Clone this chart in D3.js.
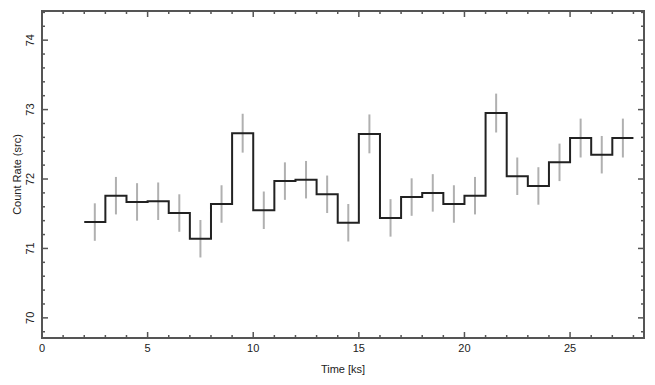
<!DOCTYPE html>
<html>
<head>
<style>
  body { margin: 0; background: #fff; }
  svg text { font-family: "Liberation Sans", Arial, sans-serif; fill: #222; }
</style>
</head>
<body>
<svg width="655" height="385"></svg>
<script src="https://d3js.org/d3.v7.min.js"></script>
<script>
// bin edges (ks), count rate per bin, 1-sigma errors
var binStart = [2, 3, 4, 5, 6, 7, 8, 9, 10, 11, 12, 13, 14, 15, 16, 17, 18, 19, 20, 21, 22, 23, 24, 25, 26, 27];
var binWidth = 1;
var rate = [71.38, 71.76, 71.67, 71.68, 71.51, 71.14, 71.64, 72.66, 71.55, 71.97, 71.99, 71.78, 71.37,
            72.65, 71.44, 71.74, 71.80, 71.64, 71.76, 72.95, 72.04, 71.90, 72.24, 72.59, 72.35, 72.59];
var err = [0.27, 0.27, 0.27, 0.27, 0.27, 0.27, 0.27, 0.28, 0.27, 0.27, 0.27, 0.27, 0.27,
           0.28, 0.27, 0.27, 0.27, 0.27, 0.27, 0.28, 0.27, 0.27, 0.27, 0.28, 0.27, 0.28];
var xTicks = [0, 5, 10, 15, 20, 25];
var yTicks = [70, 71, 72, 73, 74];

var svg = d3.select("svg");
var m = {left: 42, right: 11, top: 11, bottom: 47};
var W = 655 - m.left - m.right, H = 385 - m.top - m.bottom;

var x = d3.scaleLinear().domain([0, 28.5]).range([0, W]);
var y = d3.scaleLinear().domain([69.71, 74.42]).range([H, 0]);

var g = svg.append("g").attr("transform", "translate(" + m.left + "," + m.top + ")");

// error bars
g.append("g").selectAll("line")
  .data(binStart)
  .enter().append("line")
    .attr("x1", function(d) { return x(d + binWidth / 2); })
    .attr("x2", function(d) { return x(d + binWidth / 2); })
    .attr("y1", function(d, i) { return y(rate[i] - err[i]); })
    .attr("y2", function(d, i) { return y(rate[i] + err[i]); })
    .attr("stroke", "#b0b0b0")
    .attr("stroke-width", 2);

// step line
var pts = [];
binStart.forEach(function(d, i) {
  pts.push([d, rate[i]]);
  pts.push([d + binWidth, rate[i]]);
});
var line = d3.line()
  .x(function(d) { return x(d[0]); })
  .y(function(d) { return y(d[1]); });
g.append("path")
  .attr("d", line(pts))
  .attr("fill", "none")
  .attr("stroke", "#222")
  .attr("stroke-width", 2);

// frame
g.append("rect")
  .attr("width", W).attr("height", H)
  .attr("fill", "none")
  .attr("stroke", "#555")
  .attr("stroke-width", 2);

// ticks on all four sides, pointing inward
var xMinor = d3.range(0, 29, 1);
var yMinor = d3.range(69.8, 74.41, 0.2);

var tk = g.append("g").attr("stroke", "#555").attr("stroke-width", 1.5);
xMinor.forEach(function(v) {
  var L = xTicks.indexOf(v) >= 0 ? 6 : 3;
  tk.append("line").attr("x1", x(v)).attr("x2", x(v)).attr("y1", H).attr("y2", H - L);
  tk.append("line").attr("x1", x(v)).attr("x2", x(v)).attr("y1", 0).attr("y2", L);
});
yMinor.forEach(function(v) {
  var major = Math.abs(v - Math.round(v)) < 0.01;
  var L = major ? 6 : 3;
  tk.append("line").attr("y1", y(v)).attr("y2", y(v)).attr("x1", 0).attr("x2", L);
  tk.append("line").attr("y1", y(v)).attr("y2", y(v)).attr("x1", W).attr("x2", W - L);
});

// tick labels
g.append("g").selectAll("text")
  .data(xTicks)
  .enter().append("text")
    .attr("x", function(d) { return x(d); })
    .attr("y", H + 14)
    .attr("text-anchor", "middle")
    .attr("font-size", 11)
    .text(function(d) { return d; });

g.append("g").selectAll("text")
  .data(yTicks)
  .enter().append("text")
    .attr("transform", function(d) { return "translate(-8," + y(d) + ") rotate(-90)"; })
    .attr("text-anchor", "middle")
    .attr("font-size", 11)
    .text(function(d) { return d; });

// axis titles
svg.append("text")
  .attr("x", m.left + W / 2)
  .attr("y", 373)
  .attr("text-anchor", "middle")
  .attr("font-size", 11)
  .text("Time [ks]");

svg.append("text")
  .attr("transform", "translate(21," + (m.top + H / 2) + ") rotate(-90)")
  .attr("text-anchor", "middle")
  .attr("font-size", 11)
  .text("Count Rate (src)");
</script>
</body>
</html>
